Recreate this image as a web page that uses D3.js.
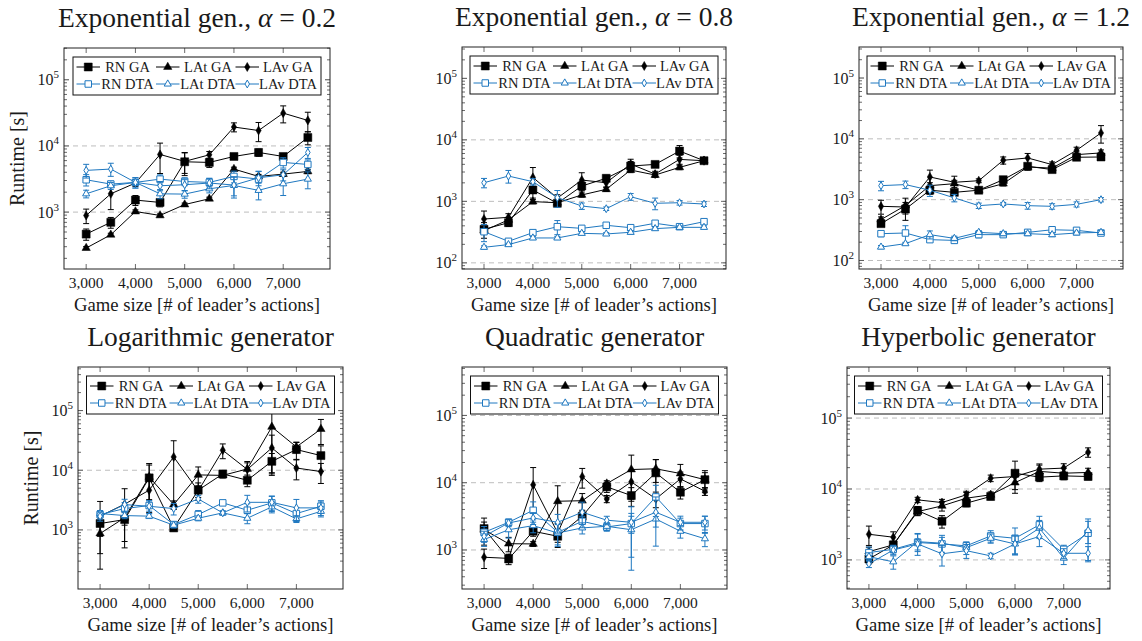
<!DOCTYPE html>
<html>
<head>
<meta charset="utf-8">
<script src="https://cdn.jsdelivr.net/npm/d3@7"></script>
<style>
  body { margin: 0; background: #fff; }
  svg text { font-family: "Liberation Serif", "DejaVu Serif", serif; fill: #1a1a1a; }
</style>
</head>
<body>
<script>
// Game sizes (x) and tick labels
const gameSizes = [3000, 3500, 4000, 4500, 5000, 5500, 6000, 6500, 7000, 7500];
const xTickValues = [3000, 4000, 5000, 6000, 7000];
const seriesNames = ["RN GA", "LAt GA", "LAv GA", "RN DTA", "LAt DTA", "LAv DTA"];
const panelTitles = ["Exponential gen., ", "Exponential gen., ", "Exponential gen., ",
                     "Logarithmic generator", "Quadratic generator", "Hyperbolic generator"];
const panelAlphas = ["0.2", "0.8", "1.2", null, null, null];

// Exponential gen., alpha = 0.2
const e02RnGa     = [465, 700, 1520, 1400, 5760, 5630, 6930, 7970, 6930, 13400];
const e02RnGaErr  = [90, 130, 260, 200, 2200, 900, 600, 1000, 700, 3000];
const e02LatGa    = [286, 454, 1020, 890, 1300, 1590, 4470, 3460, 3750, 4120];
const e02LatGaErr = [15, 25, 60, 50, 70, 90, 300, 250, 250, 300];
const e02LavGa    = [890, 1890, 2750, 7430, 5840, 7340, 19300, 17100, 31300, 24300];
const e02LavGaErr = [220, 800, 300, 3600, 2000, 900, 3000, 5500, 9000, 8000];
const e02RnDta    = [3080, 2650, 2810, 3150, 2900, 2810, 3460, 3150, 5630, 5250];
const e02RnDtaErr = [600, 300, 500, 500, 400, 400, 700, 1000, 1000, 900];
const e02LatDta   = [1890, 2500, 2810, 1890, 1870, 2250, 2530, 2130, 2680, 3150];
const e02LatDtaErr= [250, 300, 300, 300, 250, 300, 900, 600, 900, 900];
const e02LavDta   = [4270, 4470, 2810, 2500, 2590, 2750, 2560, 3300, 3660, 7970];
const e02LavDtaErr= [1000, 1000, 500, 400, 500, 500, 800, 800, 700, 1500];

// Exponential gen., alpha = 0.8
const e08RnGa     = [351, 450, 1530, 930, 1775, 2370, 3750, 3990, 6580, 4580];
const e08RnGaErr  = [100, 60, 400, 100, 300, 300, 700, 400, 1500, 300];
const e08LatGa    = [334, 500, 990, 950, 1270, 1570, 3230, 2680, 3570, 4580];
const e08LatGaErr = [30, 50, 80, 80, 100, 120, 300, 200, 300, 300];
const e08LavGa    = [516, 550, 2450, 1130, 2220, 2010, 4040, 2780, 4810, 4580];
const e08LavGaErr = [180, 80, 1100, 150, 700, 300, 800, 300, 800, 300];
const e08RnDta    = [321, 224, 310, 387, 364, 408, 373, 440, 387, 467];
const e08RnDtaErr = [100, 20, 30, 100, 30, 30, 30, 40, 30, 40];
const e08LatDta   = [179, 198, 254, 254, 302, 295, 314, 360, 378, 378];
const e08LatDtaErr= [10, 10, 15, 15, 15, 15, 20, 20, 20, 20];
const e08LavDta   = [2010, 2580, 2090, 1150, 840, 760, 1190, 930, 950, 905];
const e08LavDtaErr= [350, 600, 250, 350, 100, 50, 150, 200, 80, 80];

// Exponential gen., alpha = 1.2
const e12RnGa     = [403, 700, 1430, 1320, 1430, 2130, 3540, 3120, 4980, 5030];
const e12RnGaErr  = [40, 120, 200, 150, 100, 200, 400, 300, 500, 500];
const e12LatGa    = [470, 800, 1700, 1830, 1430, 1830, 3450, 3300, 5500, 5870];
const e12LatGaErr = [50, 100, 200, 250, 100, 150, 400, 300, 600, 700];
const e12LavGa    = [777, 757, 2360, 1930, 2050, 4440, 4850, 3770, 6480, 12500];
const e12LavGaErr = [200, 300, 700, 500, 150, 600, 900, 400, 800, 4000];
const e12RnDta    = [276, 283, 220, 214, 266, 266, 290, 320, 313, 283];
const e12RnDtaErr = [30, 90, 20, 20, 30, 20, 20, 30, 30, 20];
const e12LatDta   = [166, 189, 266, 231, 290, 276, 276, 266, 283, 290];
const e12LatDtaErr= [10, 10, 40, 20, 20, 20, 20, 20, 20, 20];
const e12LavDta   = [1700, 1770, 1430, 1070, 797, 850, 797, 777, 838, 1000];
const e12LavDtaErr= [300, 250, 300, 150, 80, 50, 100, 80, 80, 80];

// Logarithmic generator
const logRnGa     = [1280, 1490, 7450, 1080, 4630, 8680, 6800, 14100, 22200, 17600];
const logRnGaErr  = [500, 850, 5500, 100, 1500, 1000, 1500, 5000, 7000, 8000];
const logLatGa    = [870, 1600, 7720, 2660, 8350, 8200, 10500, 53200, 24600, 49000];
const logLatGaErr = [650, 400, 4500, 400, 3000, 800, 3500, 45000, 5000, 22000];
const logLavGa    = [1700, 2700, 4630, 16700, 4500, 21600, 10300, 23700, 10900, 9500];
const logLavGaErr = [1300, 2200, 2000, 14500, 1000, 6000, 3000, 15000, 4000, 3500];
const logRnDta    = [1810, 2280, 2560, 1230, 1810, 2840, 2140, 2840, 1880, 2490];
const logRnDtaErr = [300, 600, 500, 150, 300, 100, 600, 800, 500, 600];
const logLatDta   = [1880, 1740, 1700, 1200, 1570, 1930, 1570, 2430, 1530, 2050];
const logLatDtaErr= [200, 200, 150, 100, 150, 150, 300, 500, 200, 400];
const logLavDta   = [1700, 2660, 2490, 2280, 3300, 1930, 2900, 2900, 2340, 2340];
const logLavDtaErr= [300, 600, 600, 500, 500, 150, 900, 800, 900, 600];

// Quadratic generator
const quaRnGa     = [2080, 735, 1900, 1600, 3170, 8670, 6450, 14000, 7220, 11100];
const quaRnGaErr  = [900, 130, 300, 300, 600, 1500, 2000, 8000, 1500, 4000];
const quaLatGa    = [2000, 1240, 1230, 5300, 5400, 9700, 15700, 16100, 13700, 11100];
const quaLatGaErr = [600, 300, 100, 3700, 1500, 1000, 10000, 6000, 5000, 3000];
const quaLavGa    = [780, 750, 9300, 1790, 12300, 5750, 10300, 5750, 11400, 7470];
const quaLavGaErr = [250, 100, 7500, 700, 4000, 700, 5000, 1500, 3000, 1000];
const quaRnDta    = [1830, 2580, 3890, 1830, 2670, 2200, 2470, 6150, 2470, 2470];
const quaRnDtaErr = [400, 300, 1300, 700, 500, 300, 700, 3000, 500, 700];
const quaLatDta   = [1430, 2000, 2300, 1790, 2130, 2250, 2000, 2890, 1900, 1470];
const quaLatDtaErr= [300, 500, 500, 600, 400, 300, 1500, 700, 400, 350];
const quaLavDta   = [1600, 2520, 2990, 2580, 3640, 2770, 2580, 3640, 2580, 2580];
const quaLavDtaErr= [300, 300, 600, 800, 1500, 400, 1800, 2500, 600, 600];

// Hyperbolic generator
const hypRnGa     = [1030, 1630, 4970, 3510, 6320, 7840, 16700, 14700, 15300, 15000];
const hypRnGaErr  = [150, 200, 700, 700, 700, 800, 8000, 2000, 1800, 1500];
const hypLatGa    = [1310, 1630, 4800, 5780, 7420, 8280, 12300, 17700, 16700, 17100];
const hypLatGaErr = [200, 200, 600, 900, 1500, 800, 2500, 4000, 3000, 2500];
const hypLavGa    = [2300, 2090, 7030, 6440, 8280, 14200, 15000, 19050, 19700, 33000];
const hypLavGaErr = [700, 400, 600, 700, 1000, 1500, 3000, 3500, 3000, 5000];
const hypRnDta    = [1270, 1410, 1760, 1680, 1580, 2180, 2020, 3120, 1410, 2380];
const hypRnDtaErr = [250, 200, 600, 400, 200, 400, 800, 1000, 200, 1400];
const hypLatDta   = [1110, 940, 1810, 1720, 1490, 2020, 1680, 2800, 1060, 2600];
const hypLatDtaErr= [150, 200, 500, 500, 300, 300, 500, 800, 200, 900];
const hypLavDta   = [880, 1380, 1680, 1220, 1350, 1140, 1680, 2140, 1240, 1240];
const hypLavDtaErr= [100, 200, 300, 400, 300, 100, 500, 600, 200, 300];

const panelData = [
  [[e02RnGa, e02RnGaErr], [e02LatGa, e02LatGaErr], [e02LavGa, e02LavGaErr], [e02RnDta, e02RnDtaErr], [e02LatDta, e02LatDtaErr], [e02LavDta, e02LavDtaErr]],
  [[e08RnGa, e08RnGaErr], [e08LatGa, e08LatGaErr], [e08LavGa, e08LavGaErr], [e08RnDta, e08RnDtaErr], [e08LatDta, e08LatDtaErr], [e08LavDta, e08LavDtaErr]],
  [[e12RnGa, e12RnGaErr], [e12LatGa, e12LatGaErr], [e12LavGa, e12LavGaErr], [e12RnDta, e12RnDtaErr], [e12LatDta, e12LatDtaErr], [e12LavDta, e12LavDtaErr]],
  [[logRnGa, logRnGaErr], [logLatGa, logLatGaErr], [logLavGa, logLavGaErr], [logRnDta, logRnDtaErr], [logLatDta, logLatDtaErr], [logLavDta, logLavDtaErr]],
  [[quaRnGa, quaRnGaErr], [quaLatGa, quaLatGaErr], [quaLavGa, quaLavGaErr], [quaRnDta, quaRnDtaErr], [quaLatDta, quaLatDtaErr], [quaLavDta, quaLavDtaErr]],
  [[hypRnGa, hypRnGaErr], [hypLatGa, hypLatGaErr], [hypLavGa, hypLavGaErr], [hypRnDta, hypRnDtaErr], [hypLatDta, hypLatDtaErr], [hypLavDta, hypLavDtaErr]]
];

// Layout of the six plot frames (pixels) and log10 y limits
const frames = [
  { left: 64,  right: 330,  top: 48,  bottom: 269, yLo: 2.14, yHi: 5.48, yLabel: true },
  { left: 462, right: 726,  top: 47,  bottom: 269, yLo: 1.90, yHi: 5.51, yLabel: false },
  { left: 859, right: 1123, top: 47,  bottom: 269, yLo: 1.86, yHi: 5.51, yLabel: false },
  { left: 78,  right: 343,  top: 367, bottom: 589, yLo: 2.01, yHi: 5.73, yLabel: true },
  { left: 462, right: 727,  top: 367, bottom: 589, yLo: 2.42, yHi: 5.72, yLabel: false },
  { left: 847, right: 1110, top: 367, bottom: 589, yLo: 2.59, yHi: 5.72, yLabel: false }
];

const black = "#000";
const blue = "#1f78c0";
const styles = [
  { color: black, symbol: d3.symbolSquare,   size: 64, fill: true },
  { color: black, symbol: d3.symbolTriangle, size: 30, fill: true },
  { color: black, symbol: d3.symbolDiamond,  size: 24, fill: true },
  { color: blue,  symbol: d3.symbolSquare,   size: 42, fill: false },
  { color: blue,  symbol: d3.symbolTriangle, size: 22, fill: false },
  { color: blue,  symbol: d3.symbolDiamond,  size: 18, fill: false }
];

const svg = d3.select("body")
  .append("svg")
  .attr("width", 1142)
  .attr("height", 641)
  .attr("font-family", "'Liberation Serif', 'DejaVu Serif', serif");

const fmt = d3.format(",");

frames.forEach((f, pi) => {
  const x = d3.scaleLinear().domain([2550, 7950]).range([f.left, f.right]);
  const y = d3.scaleLog().domain([10 ** f.yLo, 10 ** f.yHi]).range([f.bottom, f.top]);
  const g = svg.append("g");

  const clipId = "clip" + pi;
  svg.append("clipPath").attr("id", clipId)
    .append("rect")
    .attr("x", f.left).attr("y", f.top)
    .attr("width", f.right - f.left).attr("height", f.bottom - f.top);

  // major and minor log ticks
  const majors = d3.range(Math.ceil(f.yLo), Math.floor(f.yHi) + 1);
  const minors = [];
  d3.range(Math.floor(f.yLo), Math.floor(f.yHi) + 1).forEach(k => {
    for (let m = 2; m <= 9; m++) {
      const v = m * 10 ** k;
      if (Math.log10(v) > f.yLo && Math.log10(v) < f.yHi) minors.push(v);
    }
  });

  // dashed grid
  g.selectAll(".grid")
    .data(majors)
    .join("line")
    .attr("x1", f.left).attr("x2", f.right)
    .attr("y1", k => y(10 ** k)).attr("y2", k => y(10 ** k))
    .attr("stroke", "#bdbdbd")
    .attr("stroke-width", 1)
    .attr("stroke-dasharray", "5,4");

  // y ticks (inside, both sides)
  const tickG = g.append("g").attr("stroke", "#444").attr("stroke-width", 0.8);
  majors.forEach(k => {
    const yy = y(10 ** k);
    tickG.append("line").attr("x1", f.left).attr("x2", f.left + 5).attr("y1", yy).attr("y2", yy);
    tickG.append("line").attr("x1", f.right).attr("x2", f.right - 5).attr("y1", yy).attr("y2", yy);
  });
  minors.forEach(v => {
    const yy = y(v);
    tickG.append("line").attr("x1", f.left).attr("x2", f.left + 3).attr("y1", yy).attr("y2", yy);
    tickG.append("line").attr("x1", f.right).attr("x2", f.right - 3).attr("y1", yy).attr("y2", yy);
  });
  xTickValues.forEach(v => {
    const xx = x(v);
    tickG.append("line").attr("x1", xx).attr("x2", xx).attr("y1", f.bottom).attr("y2", f.bottom - 5);
    tickG.append("line").attr("x1", xx).attr("x2", xx).attr("y1", f.top).attr("y2", f.top + 5);
  });

  // y tick labels 10^k
  majors.forEach(k => {
    const t = g.append("text")
      .attr("x", f.left - 5)
      .attr("y", y(10 ** k) + 5.5)
      .attr("text-anchor", "end")
      .attr("font-size", 16);
    t.append("tspan").text("10");
    t.append("tspan").attr("dy", -7).attr("font-size", 11).text(k);
  });

  // x tick labels
  g.selectAll(".xl")
    .data(xTickValues)
    .join("text")
    .attr("x", d => x(d))
    .attr("y", f.bottom + 19)
    .attr("text-anchor", "middle")
    .attr("font-size", 15.5)
    .text(d => fmt(d));

  // axis labels
  g.append("text")
    .attr("x", (f.left + f.right) / 2)
    .attr("y", f.bottom + 42)
    .attr("text-anchor", "middle")
    .attr("font-size", 18.7)
    .text("Game size [# of leader\u2019s actions]");

  if (f.yLabel) {
    g.append("text")
      .attr("transform", `translate(${f.left - 40},${(f.top + f.bottom) / 2}) rotate(-90)`)
      .attr("text-anchor", "middle")
      .attr("font-size", 20)
      .text("Runtime [s]");
  }

  // title
  const title = g.append("text")
    .attr("x", (f.left + f.right) / 2)
    .attr("y", f.top - 21)
    .attr("text-anchor", "middle")
    .attr("font-size", 27.5);
  title.append("tspan").text(panelTitles[pi]);
  if (panelAlphas[pi]) {
    title.append("tspan").attr("font-style", "italic").text("\u03b1");
    title.append("tspan").text(" = " + panelAlphas[pi]);
  }

  // series
  const plot = g.append("g").attr("clip-path", `url(#${clipId})`);
  const line = d3.line().x((d, i) => x(gameSizes[i])).y(d => y(d));
  const yMin = 10 ** f.yLo;

  panelData[pi].forEach(([vals, errs], si) => {
    const st = styles[si];
    const sg = plot.append("g");
    sg.append("path")
      .datum(vals)
      .attr("fill", "none")
      .attr("stroke", st.color)
      .attr("stroke-width", 1)
      .attr("d", line);

    // error bars
    const eb = sg.append("g").attr("stroke", st.color).attr("stroke-width", 1);
    vals.forEach((v, i) => {
      const xx = x(gameSizes[i]);
      const hi = y(v + errs[i]);
      const lo = y(Math.max(v - errs[i], yMin * 0.5));
      eb.append("line").attr("x1", xx).attr("x2", xx).attr("y1", hi).attr("y2", lo);
      eb.append("line").attr("x1", xx - 3).attr("x2", xx + 3).attr("y1", hi).attr("y2", hi);
      if (v - errs[i] > yMin) {
        eb.append("line").attr("x1", xx - 3).attr("x2", xx + 3).attr("y1", lo).attr("y2", lo);
      }
    });

    sg.selectAll("path.mark")
      .data(vals)
      .join("path")
      .attr("class", "mark")
      .attr("transform", (d, i) => `translate(${x(gameSizes[i])},${y(d)})`)
      .attr("d", d3.symbol().type(st.symbol).size(st.size))
      .attr("fill", st.fill ? st.color : "#fff")
      .attr("stroke", st.color)
      .attr("stroke-width", st.fill ? 0.5 : 1);
  });

  // frame
  g.append("rect")
    .attr("x", f.left).attr("y", f.top)
    .attr("width", f.right - f.left).attr("height", f.bottom - f.top)
    .attr("fill", "none")
    .attr("stroke", "#222")
    .attr("stroke-width", 1);

  // legend
  const lw = 248, lh = 38;
  const lx = (f.left + f.right) / 2 - lw / 2;
  const ly = f.top + 9;
  const lg = g.append("g").attr("transform", `translate(${lx},${ly})`);
  lg.append("rect")
    .attr("width", lw).attr("height", lh)
    .attr("fill", "#fff")
    .attr("stroke", "#111")
    .attr("stroke-width", 1);
  const lineStarts = [3.5, 83, 162.5];
  const textCenters = [54.5, 135, 215];
  seriesNames.forEach((name, si) => {
    const st = styles[si];
    const col = si % 3, row = Math.floor(si / 3);
    const cy = row === 0 ? 10 : 27;
    lg.append("line")
      .attr("x1", lineStarts[col]).attr("x2", lineStarts[col] + 23.5)
      .attr("y1", cy).attr("y2", cy)
      .attr("stroke", st.color).attr("stroke-width", 1);
    lg.append("path")
      .attr("transform", `translate(${lineStarts[col] + 11.75},${cy})`)
      .attr("d", d3.symbol().type(st.symbol).size(st.size))
      .attr("fill", st.fill ? st.color : "#fff")
      .attr("stroke", st.color)
      .attr("stroke-width", st.fill ? 0.5 : 1);
    lg.append("text")
      .attr("x", textCenters[col])
      .attr("y", cy + 5)
      .attr("text-anchor", "middle")
      .attr("font-size", 14.5)
      .text(name);
  });
});
</script>
</body>
</html>
